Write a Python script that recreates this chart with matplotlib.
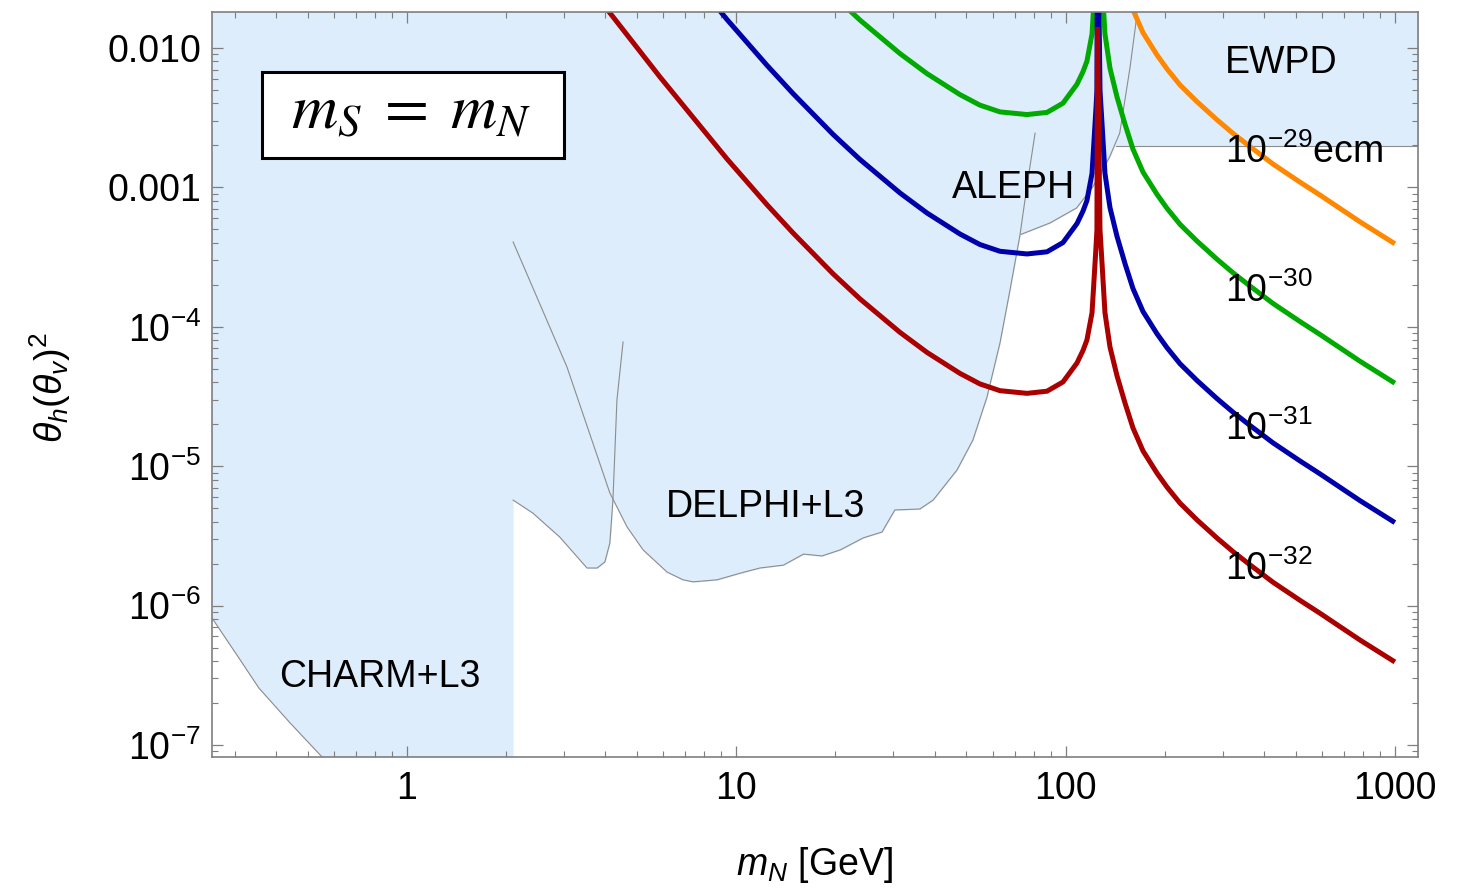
"""
m_S = m_N 情形下 theta^2 - m_N 约束图（EDM 等值线 + 实验排除区）
"""
import matplotlib
matplotlib.use("Agg")
import matplotlib.pyplot as plt
from matplotlib.ticker import FixedLocator, FixedFormatter, LogLocator, NullFormatter
from matplotlib.patches import Rectangle

plt.rcParams['font.family'] = ['Liberation Sans', 'DejaVu Sans']
plt.rcParams['mathtext.fontset'] = 'custom'
plt.rcParams['mathtext.rm'] = 'Liberation Sans'
plt.rcParams['mathtext.it'] = 'Liberation Sans:italic'
plt.rcParams['mathtext.bf'] = 'Liberation Sans:bold'
plt.rcParams['mathtext.sf'] = 'Liberation Sans'

# ====================== 1. 数据 ======================
# EDM 等值线，m_N [GeV]
mN = [2.914, 4.136, 5.866, 9.371, 12.40, 14.87, 19.67, 23.75, 31.41, 37.94,
      47.78, 54.95, 63.22, 76.35, 87.80, 98.20, 108.3, 112.9, 116.1, 120.3, 122.0,
      123.7, 124.5, 125.0, 127.2, 129.0, 131.7, 136.4, 143.2, 151.5, 160.2,
      171.8, 189.5, 203.2, 222.6, 250.6, 288.4, 322.4, 363.1, 426.5, 515.1,
      592.3, 783.5, 1000.0]
# d = 10^-32 ecm
theta_32 = [5.13e-2, 1.78e-2, 6.19e-3, 1.60e-3, 7.50e-4, 4.71e-4, 2.40e-4, 1.585e-4, 9.12e-5, 6.55e-5,
            4.63e-5, 3.89e-5, 3.48e-5, 3.33e-5, 3.45e-5, 4.02e-5, 5.50e-5, 6.75e-5, 8.04e-5, 1.26e-4, 2.17e-4,
            3.74e-4, 4.95e-4, 1.415e-2, 4.95e-4, 2.87e-4, 1.26e-4, 7.16e-5, 4.47e-5, 2.84e-5, 1.88e-5,
            1.288e-5, 8.91e-6, 7.08e-6, 5.43e-6, 4.12e-6, 3.05e-6, 2.44e-6, 1.96e-6, 1.47e-6, 1.09e-6,
            8.81e-7, 5.66e-7, 3.94e-7]
# d = 10^-31 ecm
theta_31 = [5.13e-1, 1.78e-1, 6.19e-2, 1.60e-2, 7.50e-3, 4.71e-3, 2.40e-3, 1.585e-3, 9.12e-4, 6.55e-4,
            4.63e-4, 3.89e-4, 3.48e-4, 3.33e-4, 3.45e-4, 4.02e-4, 5.50e-4, 6.75e-4, 8.04e-4, 1.26e-3, 2.17e-3,
            3.74e-3, 4.95e-3, 1.415e-1, 4.95e-3, 2.87e-3, 1.26e-3, 7.16e-4, 4.47e-4, 2.84e-4, 1.88e-4,
            1.288e-4, 8.91e-5, 7.08e-5, 5.43e-5, 4.12e-5, 3.05e-5, 2.44e-5, 1.96e-5, 1.47e-5, 1.09e-5,
            8.81e-6, 5.66e-6, 3.94e-6]
# d = 10^-30 ecm
theta_30 = [5.13, 1.78, 0.619, 0.160, 7.50e-2, 4.71e-2, 2.40e-2, 1.585e-2, 9.12e-3, 6.55e-3,
            4.63e-3, 3.89e-3, 3.48e-3, 3.33e-3, 3.45e-3, 4.02e-3, 5.50e-3, 6.75e-3, 8.04e-3, 1.26e-2, 2.17e-2,
            3.74e-2, 4.95e-2, 1.415, 4.95e-2, 2.87e-2, 1.26e-2, 7.16e-3, 4.47e-3, 2.84e-3, 1.88e-3,
            1.288e-3, 8.91e-4, 7.08e-4, 5.43e-4, 4.12e-4, 3.05e-4, 2.44e-4, 1.96e-4, 1.47e-4, 1.09e-4,
            8.81e-5, 5.66e-5, 3.94e-5]
# d = 10^-29 ecm
theta_29 = [51.3, 17.8, 6.19, 1.60, 0.750, 0.471, 0.240, 0.1585, 9.12e-2, 6.55e-2,
            4.63e-2, 3.89e-2, 3.48e-2, 3.33e-2, 3.45e-2, 4.02e-2, 5.50e-2, 6.75e-2, 8.04e-2, 0.126, 0.217,
            0.374, 0.495, 14.15, 0.495, 0.287, 0.126, 7.16e-2, 4.47e-2, 2.84e-2, 1.88e-2,
            1.288e-2, 8.91e-3, 7.08e-3, 5.43e-3, 4.12e-3, 3.05e-3, 2.44e-3, 1.96e-3, 1.47e-3, 1.09e-3,
            8.81e-4, 5.66e-4, 3.94e-4]

# 排除区边界（区域在边界之上）
charm_m = [0.2557, 0.3038, 0.355, 0.4414, 0.552, 0.60, 2.10]
charm_lo = [8.15e-7, 4.45e-7, 2.56e-7, 1.44e-7, 8.2e-8, 6.0e-8, 6.0e-8]

l3_m = [2.10, 2.41, 2.91, 3.52, 3.78, 3.99, 4.13, 4.22, 4.28, 4.34, 4.53]
l3_lo = [5.71e-6, 4.61e-6, 3.10e-6, 1.86e-6, 1.86e-6, 2.06e-6, 2.81e-6, 5.71e-6, 1.31e-5, 2.98e-5, 7.78e-5]

delphi_m = [2.10, 3.06, 4.13, 4.66, 5.21, 6.16, 6.89, 7.39, 8.74, 10.3,
            11.8, 13.9, 16.0, 18.2, 20.7, 24.3, 27.7, 30.3, 36.1, 39.6,
            46.8, 52.3, 57.7, 63.2, 67.8, 72.7, 76.4, 80.8]
delphi_lo = [4.06e-4, 5.15e-5, 6.43e-6, 3.66e-6, 2.51e-6, 1.74e-6, 1.53e-6, 1.48e-6, 1.53e-6, 1.71e-6,
             1.86e-6, 1.95e-6, 2.34e-6, 2.27e-6, 2.51e-6, 3.06e-6, 3.37e-6, 4.85e-6, 4.93e-6, 5.71e-6,
             9.39e-6, 1.54e-5, 3.13e-5, 7.65e-5, 1.84e-4, 4.56e-4, 1.04e-3, 2.45e-3]

aleph_m = [73.2, 89.7, 108.0, 121.0, 136.0, 146.0, 157.0, 163.2, 168.0]
aleph_lo = [4.6e-4, 5.56e-4, 7.12e-4, 1.01e-3, 1.65e-3, 2.45e-3, 7.31e-3, 1.46e-2, 3.0e-2]

ewpd_m = [142.0, 1175.0]
ewpd_lo = [1.98e-3, 1.98e-3]

# ====================== 2. 样式 ======================
SHADE = '#ddedfc'
EDGE = '#8c8c8c'
FRAME = '#7f7f7f'
CURVES = [(theta_29, '#ff8800'), (theta_30, '#00aa00'), (theta_31, '#0000aa'), (theta_32, '#aa0000')]
REGIONS = [(charm_m, charm_lo), (l3_m, l3_lo), (delphi_m, delphi_lo),
           (aleph_m, aleph_lo), (ewpd_m, ewpd_lo)]
FS = 27

fig = plt.figure(figsize=(14.63, 8.89), dpi=100)
ax = fig.add_axes([0.1449, 0.1485, 0.8243, 0.8380])
ax.set_xscale('log')
ax.set_yscale('log')
ax.set_xlim(0.2557, 1175)
ax.set_ylim(8.2e-8, 0.01812)

# ====================== 3. 排除区 ======================
for xs, lo in REGIONS:
    ax.fill_between(xs, lo, 1.0, facecolor=SHADE, edgecolor=SHADE, lw=0.6, zorder=1)
for xs, lo in REGIONS:
    ax.plot(xs, lo, color=EDGE, lw=0.8, zorder=2)

# ====================== 4. EDM 等值线 ======================
for ys, c in CURVES:
    ax.plot(mN, ys, color=c, lw=3.6, zorder=3,
            solid_capstyle='butt', solid_joinstyle='bevel')

# ====================== 5. 文字 ======================
tkw = dict(fontsize=FS, ha='left', va='baseline', zorder=4)
ax.text(0.409, 2.61e-7, 'CHARM+L3', **tkw)
ax.text(6.12, 4.33e-6, 'DELPHI+L3', **tkw)
ax.text(45.2, 8.4e-4, 'ALEPH', **tkw)
ax.text(304.8, 6.62e-3, 'EWPD', **tkw)
ax.text(304.8, 1.50e-3, r'$10^{-29}$ecm', **tkw)
ax.text(304.8, 1.51e-4, r'$10^{-30}$', **tkw)
ax.text(304.8, 1.54e-5, r'$10^{-31}$', **tkw)
ax.text(304.8, 1.53e-6, r'$10^{-32}$', **tkw)

ax.add_patch(Rectangle((0.0415, 0.804), 0.2504, 0.1155, transform=ax.transAxes,
                       facecolor='white', edgecolor='black', lw=2.2, zorder=5))
ax.text(0.165, 0.8443, r'$m_S\;=\;m_N$', transform=ax.transAxes, fontsize=46,
        ha='center', va='baseline', math_fontfamily='stix', zorder=6)

# ====================== 6. 坐标轴 ======================
ax.xaxis.set_major_locator(FixedLocator([1, 10, 100, 1000]))
ax.xaxis.set_major_formatter(FixedFormatter(['1', '10', '100', '1000']))
ax.yaxis.set_major_locator(FixedLocator([1e-7, 1e-6, 1e-5, 1e-4, 1e-3, 1e-2]))
ax.yaxis.set_major_formatter(FixedFormatter([r'$10^{-7}$', r'$10^{-6}$', r'$10^{-5}$',
                                             r'$10^{-4}$', '0.001', '0.010']))
for axis in (ax.xaxis, ax.yaxis):
    axis.set_minor_locator(LogLocator(base=10, subs=range(2, 10), numticks=20))
    axis.set_minor_formatter(NullFormatter())

ax.tick_params(which='both', direction='in', top=True, right=True, color=FRAME, labelsize=FS)
ax.tick_params(which='major', length=8, width=0.9)
ax.tick_params(which='minor', length=4, width=0.8)
ax.tick_params(axis='x', pad=10)
ax.tick_params(axis='y', pad=8)
for s in ax.spines.values():
    s.set_color(FRAME)
    s.set_linewidth(1.2)
    s.set_zorder(4)

fig.text(0.557, 0.016, r'$m_N$ [GeV]', fontsize=FS, ha='center', va='baseline')
fig.text(0.034, 0.5647, r'$\theta_h(\theta_v)^2$', fontsize=FS, rotation=90,
         ha='center', va='center')

fig.savefig('out.png', dpi=100)
